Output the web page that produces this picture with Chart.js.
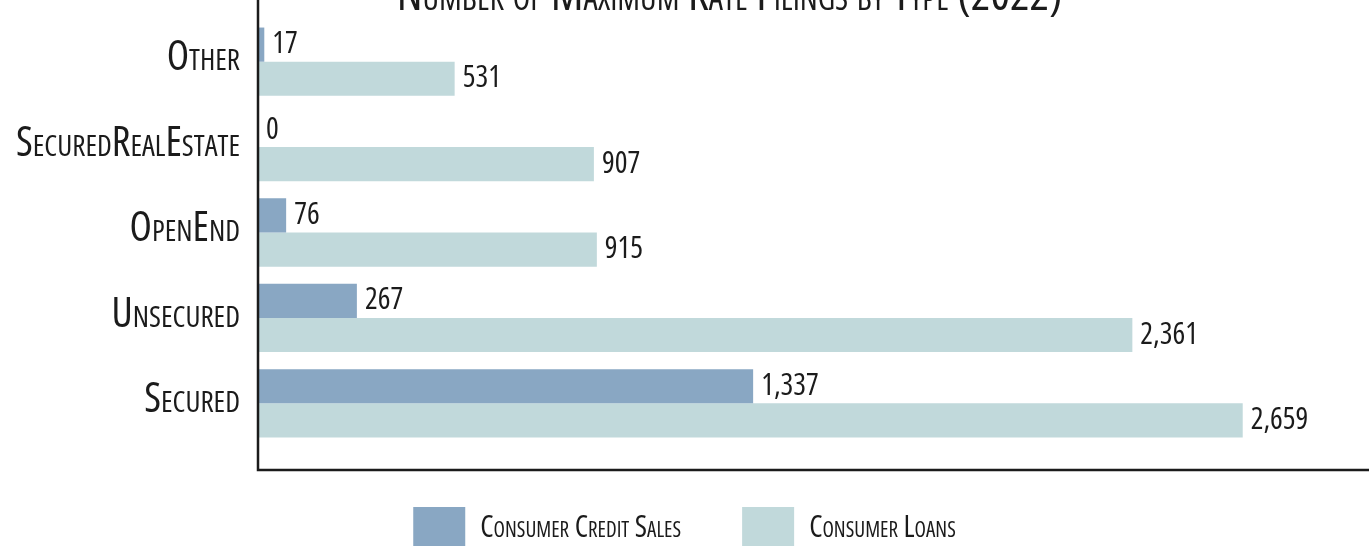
<!DOCTYPE html>
<html>
<head>
<meta charset="utf-8">
<script src="https://cdn.jsdelivr.net/npm/chart.js@4.4.1/dist/chart.umd.min.js"></script>
<style>
  html, body { margin: 0; padding: 0; background: #fff; overflow: hidden; }
  #wrap { position: relative; width: 1369px; height: 559px; }
</style>
</head>
<body>
<div id="wrap"><canvas id="filingsChart"></canvas></div>
<script>
// data
const categories = ['Other', 'SecuredRealEstate', 'OpenEnd', 'Unsecured', 'Secured'];
const creditSales = [17, 0, 76, 267, 1337];
const consumerLoans = [531, 907, 915, 2361, 2659];
const seriesNames = ['Consumer Credit Sales', 'Consumer Loans'];
const chartTitle = 'Number of Maximum Rate Filings by Type (2022)';
const xMax = 3000;

const fam = "'Open Sans', sans-serif";
const ink = '#1b1b1b';
// Chart.js puts weight straight into ctx.font, so small caps + narrow width ride in there
const capsNarrow = 'small-caps condensed';

// title sits half off the top edge in the original
const cutTitle = {
  id: 'cutTitle',
  afterDraw(chart) {
    const ctx = chart.ctx;
    ctx.save();
    ctx.font = 'small-caps condensed 46px ' + fam;
    ctx.fillStyle = ink;
    ctx.textAlign = 'center';
    ctx.textBaseline = 'alphabetic';
    ctx.fillText(chartTitle, chart.width / 2 + 45, 10);
    ctx.restore();
  }
};

// left axis runs up past the plot, bottom axis sits a bit below the last bar
const axisLines = {
  id: 'axisLines',
  afterDatasetsDraw(chart) {
    const { ctx, chartArea: a } = chart;
    const yBase = a.bottom + 24;
    ctx.save();
    ctx.strokeStyle = ink;
    ctx.lineWidth = 2.5;
    ctx.beginPath();
    ctx.moveTo(a.left, 0);
    ctx.lineTo(a.left, yBase);
    ctx.lineTo(chart.width, yBase);
    ctx.stroke();
    ctx.restore();
  }
};

const valueLabels = {
  id: 'valueLabels',
  afterDatasetsDraw(chart) {
    const ctx = chart.ctx;
    ctx.save();
    ctx.font = 'condensed 30px ' + fam;
    ctx.fillStyle = ink;
    ctx.textBaseline = 'middle';
    chart.data.datasets.forEach((ds, i) => {
      chart.getDatasetMeta(i).data.forEach((bar, j) => {
        ctx.fillText(ds.data[j].toLocaleString('en-US'), bar.x + 8, bar.y);
      });
    });
    ctx.restore();
  }
};

const ctx = document.getElementById('filingsChart').getContext('2d');
new Chart(ctx, {
  type: 'bar',
  data: {
    labels: categories,
    datasets: [{
      label: seriesNames[0],
      data: creditSales,
      backgroundColor: '#89a7c3',
    }, {
      label: seriesNames[1],
      data: consumerLoans,
      backgroundColor: '#c1d9db',
    }],
  },
  options: {
    responsive: true,
    maintainAspectRatio: false,
    animation: false,
    indexAxis: 'y',
    layout: { padding: { top: 19, right: 0, left: 0, bottom: 0 } },
    datasets: { bar: { categoryPercentage: 0.8, barPercentage: 1 } },
    scales: {
      x: { display: false, min: 0, max: xMax },
      y: {
        grid: { display: false, drawTicks: false },
        border: { display: false },
        ticks: {
          color: ink,
          padding: 18,
          labelOffset: -3,
          // tiny line height keeps the label box from pushing the plot down
          font: { family: fam, size: 41, weight: capsNarrow, lineHeight: 0.01 },
        },
        afterFit(scale) { scale.width = 258; },
      },
    },
    plugins: {
      tooltip: { enabled: false },
      legend: {
        position: 'bottom',
        labels: {
          boxWidth: 52,
          boxHeight: 42,
          padding: 61,
          color: ink,
          font: { family: fam, size: 30, weight: capsNarrow },
        },
      },
    },
  },
  plugins: [valueLabels, axisLines, cutTitle],
});
</script>
</body>
</html>
